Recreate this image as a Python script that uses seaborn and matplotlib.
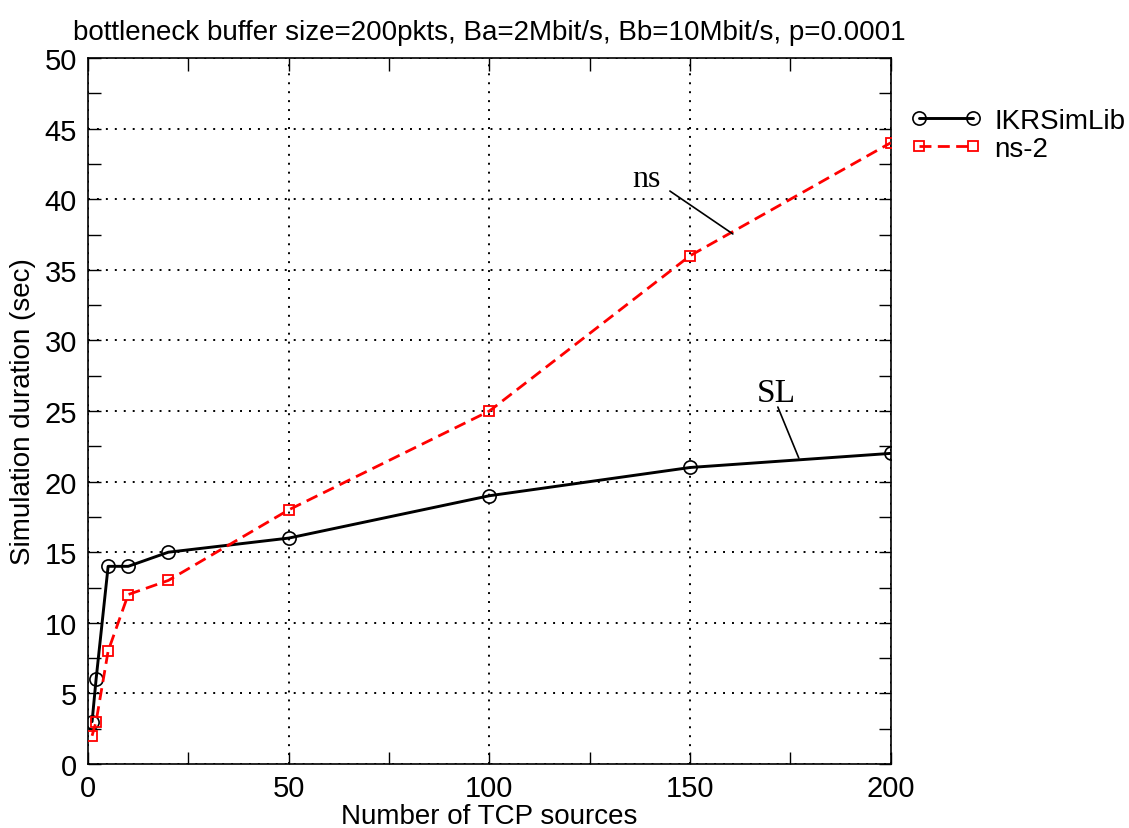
import matplotlib
matplotlib.use("Agg")
import matplotlib.pyplot as plt
import seaborn as sns
import pandas as pd
from matplotlib.ticker import MultipleLocator

sources = [1, 2, 5, 10, 20, 50, 100, 150, 200]
ikrsimlib = [3, 6, 14, 14, 15, 16, 19, 21, 22]
ns2 = [2, 3, 8, 12, 13, 18, 25, 36, 44]
series_names = ["IKRSimLib", "ns-2"]
title = "bottleneck buffer size=200pkts, Ba=2Mbit/s, Bb=10Mbit/s, p=0.0001"
xlabel = "Number of TCP sources"
ylabel = "Simulation duration (sec)"

df = pd.DataFrame({
    "x": sources * 2,
    "y": ikrsimlib + ns2,
    "series": [series_names[0]] * len(sources) + [series_names[1]] * len(sources),
})

sns.set_style("ticks")
plt.rcParams["font.family"] = ["Liberation Sans", "DejaVu Sans"]
plt.rcParams["text.color"] = "black"
plt.rcParams["axes.labelcolor"] = "black"
plt.rcParams["xtick.color"] = "black"
plt.rcParams["ytick.color"] = "black"

fig = plt.figure(figsize=(11.29, 8.29), dpi=100)
ax = fig.add_axes([0.078, 0.0772, 0.711, 0.8516])

red_dash = (4.3, 2.3)
palette = {"IKRSimLib": "black", "ns-2": "red"}
sns.lineplot(data=df, x="x", y="y", hue="series", style="series",
             palette=palette, dashes={"IKRSimLib": "", "ns-2": red_dash},
             markers={"IKRSimLib": "o", "ns-2": "s"}, ax=ax, legend=False)
lines = ax.get_lines()
lines[0].set_linewidth(2.1)
lines[0].set_markersize(9.5)
lines[0].set_markerfacecolor("none")
lines[0].set_markeredgecolor("black")
lines[0].set_markeredgewidth(1.2)
lines[1].set_linewidth(2.0)
lines[1].set_markersize(7.5)
lines[1].set_markerfacecolor("none")
lines[1].set_markeredgecolor("red")
lines[1].set_markeredgewidth(1.3)
lines[1].set_zorder(3)

ax.set_xlim(0, 200)
ax.set_ylim(0, 50)
ax.xaxis.set_major_locator(MultipleLocator(50))
ax.xaxis.set_minor_locator(MultipleLocator(25))
ax.yaxis.set_major_locator(MultipleLocator(5))
ax.yaxis.set_minor_locator(MultipleLocator(2.5))
ax.grid(True, which="major", color="black", linestyle=(0, (1, 3.6)), linewidth=1.4)
ax.tick_params(which="both", direction="in", top=True, right=True, labelsize=21,
               color="black", width=1.0, length=9)
ax.tick_params(axis="x", which="both", pad=7)
ax.tick_params(axis="y", which="both", pad=8)
for s in ax.spines.values():
    s.set_color("black")
    s.set_linewidth(1.2)
ax.set_xlabel(xlabel, fontsize=20, labelpad=1)
ax.set_ylabel(ylabel, fontsize=20, labelpad=6)
ax.set_title(title, fontsize=20, pad=14)

# legend
handles = [
    plt.Line2D([], [], color="black", lw=2.1, marker="o", markersize=9.5,
               markerfacecolor="none", markeredgewidth=1.2),
    plt.Line2D([], [], color="red", lw=2.0, linestyle=(0, red_dash), marker="s",
               markersize=7.5, markerfacecolor="none", markeredgewidth=1.3),
]
fig.legend(handles, series_names, loc="upper left", bbox_to_anchor=(0.8067, 0.869),
           frameon=False, fontsize=20, handlelength=2.55, borderpad=0,
           borderaxespad=0, handletextpad=0.45, labelspacing=0.08, numpoints=2)

serif = ["Liberation Serif", "DejaVu Serif"]
ax.text(139.2, 40.93, "ns", fontsize=23, family=serif, ha="center", va="baseline")
ax.annotate("", xy=(160.65, 37.54), xytext=(144.96, 40.58),
            arrowprops=dict(arrowstyle="-", color="black", lw=1.2,
                            shrinkA=0, shrinkB=0))
ax.text(171.4, 25.71, "SL", fontsize=24, family=serif, ha="center", va="baseline")
ax.annotate("", xy=(177.08, 21.67), xytext=(171.86, 25.28),
            arrowprops=dict(arrowstyle="-", color="black", lw=1.2,
                            shrinkA=0, shrinkB=0))

fig.savefig("out.png", dpi=100)
